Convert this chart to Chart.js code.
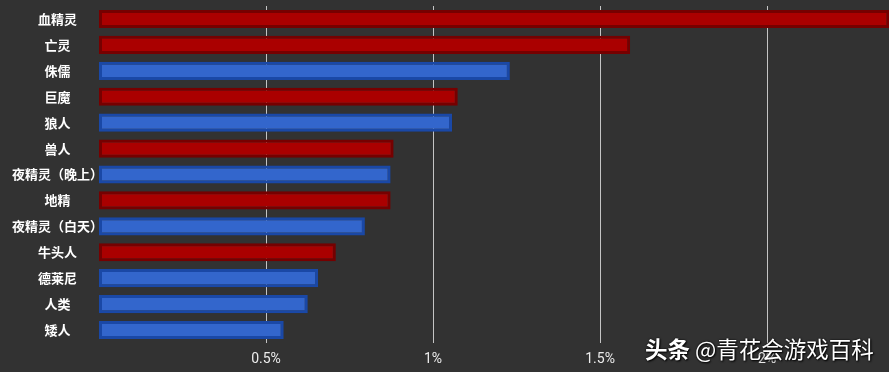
<!DOCTYPE html>
<html>
<head>
<meta charset="utf-8">
<script src="https://cdn.jsdelivr.net/npm/chart.js@4"></script>
<style>
  html, body { margin: 0; padding: 0; background: #323232; }
  #wrap { position: relative; width: 889px; height: 372px; }
  #watermark {
    position: absolute; left: 645px; top: 336px;
    font: 22.5px/24px "Noto Sans CJK SC", sans-serif;
    color: #fff; white-space: nowrap;
    text-shadow: 1px 1px 2px #000, 0 0 2px #000;
  }
  #watermark b { font-weight: 700; }
</style>
</head>
<body>
<div id="wrap">
  <canvas id="chart" width="889" height="372"></canvas>
  <div id="watermark"><b>头条</b> @青花会游戏百科</div>
</div>
<script>
// races and their share (%)
const races = ['血精灵', '亡灵', '侏儒', '巨魔', '狼人', '兽人', '夜精灵（晚上）', '地精',
               '夜精灵（白天）', '牛头人', '德莱尼', '人类', '矮人'];
const shares = [2.366, 1.590, 1.230, 1.074, 1.057, 0.882, 0.873, 0.873, 0.796, 0.709, 0.656, 0.625, 0.553];
const factions = ['horde', 'horde', 'alliance', 'horde', 'alliance', 'horde', 'alliance', 'horde',
                  'alliance', 'horde', 'alliance', 'alliance', 'alliance'];
const xTicks = [0.5, 1, 1.5, 2];

const fill = { horde: '#aa0000', alliance: '#3366cc' };
const edge = { horde: '#760000', alliance: '#1a48a6' };

const ctx = document.getElementById('chart').getContext('2d');
new Chart(ctx, {
    type: 'bar',
    data: {
        labels: races,
        datasets: [{
            data: shares,
            backgroundColor: factions.map(f => fill[f]),
            borderColor: factions.map(f => edge[f]),
            borderWidth: 3,
            borderSkipped: false,
            barPercentage: 0.7,
            categoryPercentage: 1
        }]
    },
    options: {
        indexAxis: 'y',
        responsive: false,
        animation: false,
        layout: { padding: { top: 6, right: 0, bottom: 0, left: 0 } },
        plugins: {
            legend: { display: false },
            tooltip: { enabled: false }
        },
        scales: {
            x: {
                min: 0,
                max: 2.365,
                afterBuildTicks: s => { s.ticks = xTicks.map(v => ({ value: v })); },
                afterFit: s => { s.height = 29; },
                border: { display: false },
                grid: { color: '#c4c4c4', lineWidth: 1, drawTicks: false },
                ticks: {
                    color: '#ececec',
                    padding: 8,
                    maxRotation: 0,
                    font: { family: 'Roboto', size: 14 },
                    callback: v => v + '%'
                }
            },
            y: {
                afterFit: s => { s.width = 99; },
                border: { display: false },
                grid: { display: false, drawTicks: false },
                ticks: {
                    color: '#ffffff',
                    crossAlign: 'center',
                    padding: -4,
                    autoSkip: false,
                    font: { family: '"Noto Sans CJK SC"', size: 13, weight: 'bold' }
                }
            }
        }
    }
});
</script>
</body>
</html>
